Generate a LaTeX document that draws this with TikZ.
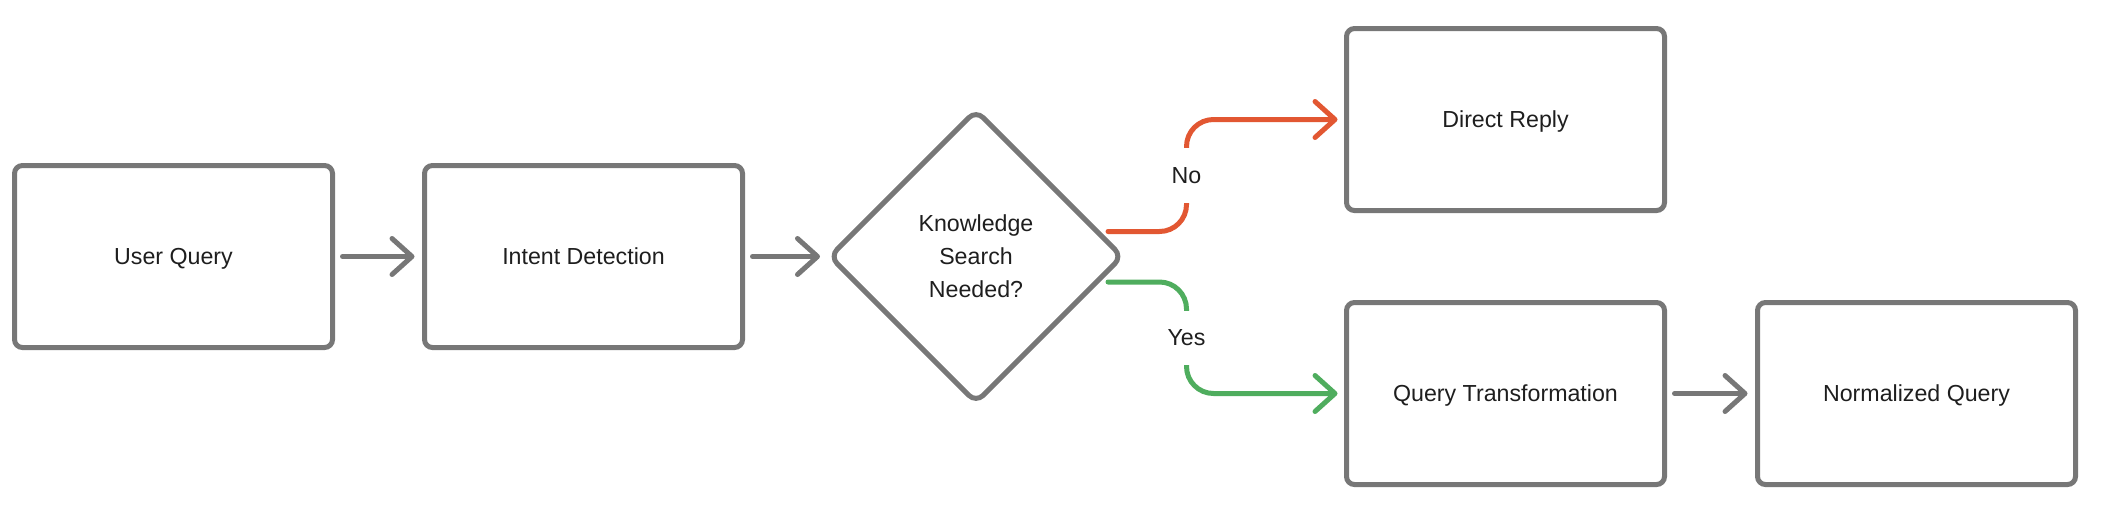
\documentclass[tikz,border=0pt]{standalone}
\usepackage{fontspec}
\setmainfont{Liberation Sans}
\usetikzlibrary{calc}
\usetikzlibrary{shapes.geometric}
\usetikzlibrary{arrows.meta}
\definecolor{boxgray}{HTML}{777777}
\definecolor{labeltext}{HTML}{1E1E1E}
\definecolor{nored}{HTML}{E25732}
\definecolor{yesgreen}{HTML}{4FAD5E}
\newcommand{\boxw}{159pt}
\newcommand{\boxh}{91pt}
\newcommand{\diasize}{146pt}
\newcommand{\bendr}{13.5pt}
\newcommand{\strokew}{2.5pt}
\newcommand{\toprow}{119.5}
\newcommand{\midrow}{256.5}
\newcommand{\botrow}{393.5}
\tikzset{
  procbox/.style={rectangle, draw=boxgray, line width=\strokew, rounded corners=4pt,
    minimum width=\boxw, minimum height=\boxh, outer sep=0pt, text=labeltext,
    text height=8.2pt, text depth=0pt},
  decision/.style={diamond, aspect=1, draw=boxgray, line width=\strokew,
    rounded corners=5pt, minimum width=\diasize, minimum height=\diasize,
    outer sep=0pt, align=center, text=labeltext,
    font=\fontsize{11.6}{16.5}\selectfont},
  flowarrow/.style={draw=boxgray, line width=\strokew, line cap=round,
    -{Straight Barb[length=10pt,width=18pt,round]}, shorten <=5pt, shorten >=5pt},
  branch/.style={line width=\strokew, line cap=round, rounded corners=\bendr,
    -{Straight Barb[length=10pt,width=18pt,round]}, shorten >=4.5pt},
  branchlabel/.style={fill=white, sharp corners, text=labeltext, inner xsep=2pt,
    inner ysep=9.5pt, text height=8.2pt, text depth=0pt}
}
\begin{document}
\begin{tikzpicture}[x=0.5pt, y=-0.5pt, font=\fontsize{11.6}{17.5}\selectfont]
    \useasboundingbox (0,0) rectangle (2102,510);

    % main row
    \node[procbox] (userquery) at (173.5,\midrow) {User Query};
    \node[procbox] (intent) at (583.5,\midrow) {Intent Detection};
    \node[decision] (search) at (976,\midrow) {Knowledge\\Search\\Needed?};

    % branches
    \node[procbox] (reply) at (1505.5,\toprow) {Direct Reply};
    \node[procbox] (transform) at (1505.5,\botrow) {Query Transformation};
    \node[procbox] (normquery) at (1916.5,\botrow) {Normalized Query};

    \draw[flowarrow] (userquery) -- (intent);
    \draw[flowarrow] (intent) -- (search);
    \draw[flowarrow] (transform) -- (normquery);

    % no / yes
    \draw[branch, draw=nored] ($(search.east)+(-14,-25)$)
      -| node[pos=0.75, branchlabel] {No} ($(reply.west)+(-160,0)$) -- (reply.west);
    \draw[branch, draw=yesgreen] ($(search.east)+(-14,25.5)$)
      -| node[pos=0.75, branchlabel] {Yes} ($(transform.west)+(-160,0)$) -- (transform.west);
\end{tikzpicture}
\end{document}
